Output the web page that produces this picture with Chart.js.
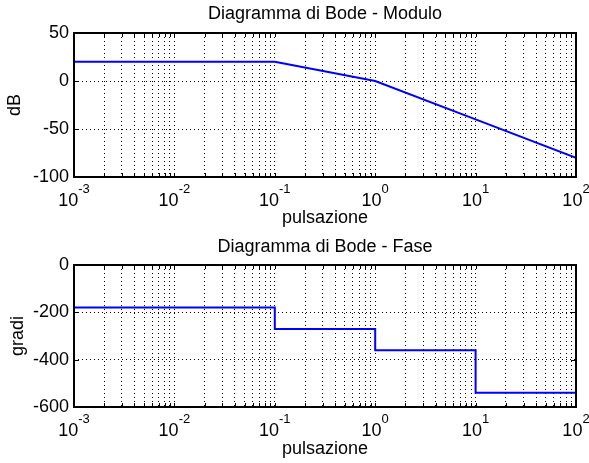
<!DOCTYPE html>
<html>
<head>
<meta charset="utf-8">
<script src="https://cdn.jsdelivr.net/npm/chart.js@4.4.0/dist/chart.umd.min.js"></script>
<style>
  html, body { margin: 0; padding: 0; background: #fff; }
  canvas { display: block; }
</style>
</head>
<body>
<canvas id="moduloChart" width="589" height="232"></canvas>
<canvas id="faseChart" width="589" height="231"></canvas>
<script>
// dati
var pulsazioni = [0.001, 0.1, 1, 10, 100];
var moduloDb = [20, 20, 0, -40, -80];
var faseGradi = [-180, -270, -360, -540, -540];

// etichette degli assi
var decadi = [0.001, 0.01, 0.1, 1, 10, 100];
var esponenti = ['-3', '-2', '-1', '0', '1', '2'];
var moduloTicks = [-100, -50, 0, 50];
var faseTicks = [-600, -400, -200, 0];

var FONT = '"Liberation Sans", Arial, Helvetica, sans-serif';
Chart.defaults.font.family = FONT;
Chart.defaults.font.size = 18;
Chart.defaults.color = '#000';

// tick logaritmici: decadi + minori 2..9
function tickLog() {
  var out = [];
  for (var i = 0; i < decadi.length; i++) {
    out.push({ value: decadi[i] });
    if (i < decadi.length - 1) {
      for (var k = 2; k <= 9; k++) {
        out.push({ value: parseFloat((decadi[i] * k).toPrecision(3)) });
      }
    }
  }
  return out;
}

// cornice, tacche interne e etichette 10^n
var cornice = {
  id: 'cornice',
  afterDraw: function(chart) {
    var ctx = chart.ctx, a = chart.chartArea;
    var sx = chart.scales.x, sy = chart.scales.y;
    ctx.save();
    ctx.strokeStyle = '#000';
    ctx.lineWidth = 1;
    ctx.beginPath();
    sx.ticks.forEach(function(t) {
      var px = Math.round(sx.getPixelForValue(t.value)) + 0.5;
      ctx.moveTo(px, a.bottom); ctx.lineTo(px, a.bottom - 4);
      ctx.moveTo(px, a.top); ctx.lineTo(px, a.top + 4);
    });
    sy.ticks.forEach(function(t) {
      var py = Math.round(sy.getPixelForValue(t.value)) + 0.5;
      ctx.moveTo(a.left, py); ctx.lineTo(a.left + 5, py);
      ctx.moveTo(a.right, py); ctx.lineTo(a.right - 5, py);
    });
    ctx.stroke();
    ctx.lineWidth = 2;
    ctx.strokeRect(a.left, a.top, a.right - a.left, a.bottom - a.top);

    ctx.fillStyle = '#000';
    ctx.textAlign = 'left';
    ctx.textBaseline = 'alphabetic';
    decadi.forEach(function(v, i) {
      var px = sx.getPixelForValue(v);
      ctx.font = '18px ' + FONT;
      var wb = ctx.measureText('10').width;
      ctx.font = '13px ' + FONT;
      var we = ctx.measureText(esponenti[i]).width;
      var x0 = px - (wb + we) / 2;
      ctx.font = '18px ' + FONT;
      ctx.fillText('10', x0, a.bottom + 29);
      ctx.font = '13px ' + FONT;
      ctx.fillText(esponenti[i], x0 + wb, a.bottom + 15.5);
    });
    ctx.restore();
  }
};

function grafico(id, titolo, etichettaY, valori, yTicks, opz) {
  var punti = pulsazioni.map(function(x, i) { return { x: x, y: valori[i] }; });
  return new Chart(document.getElementById(id).getContext('2d'), {
    type: 'line',
    data: {
      datasets: [{
        data: punti,
        borderColor: '#0000ff',
        borderWidth: 2,
        pointRadius: 0,
        tension: 0,
        fill: false,
        stepped: opz.stepped || false
      }]
    },
    options: {
      responsive: false,
      animation: false,
      layout: { padding: { left: 0, right: 13, top: 0, bottom: 0 } },
      plugins: {
        legend: { display: false },
        tooltip: { enabled: false },
        title: {
          display: true,
          text: titolo,
          fullSize: false,
          font: { size: 18, weight: 'normal' },
          padding: { top: opz.titleTop, bottom: 33 - opz.titleTop - 21.6 }
        }
      },
      scales: {
        x: {
          type: 'logarithmic',
          min: decadi[0],
          max: decadi[decadi.length - 1],
          afterBuildTicks: function(s) { s.ticks = tickLog(); },
          afterFit: function(s) { s.height = opz.xHeight; },
          ticks: { display: false },
          grid: { color: '#000', lineWidth: 1, drawTicks: false },
          border: { display: false, dash: [1, 3] },
          title: {
            display: true,
            text: 'pulsazione',
            font: { size: 18 },
            padding: { top: 0, bottom: opz.xTitleBottom }
          }
        },
        y: {
          min: yTicks[0],
          max: yTicks[yTicks.length - 1],
          afterBuildTicks: function(s) { s.ticks = yTicks.map(function(v) { return { value: v }; }); },
          afterFit: function(s) { s.width = 74; },
          ticks: { padding: 5, font: { size: 18 } },
          grid: { color: '#000', lineWidth: 1, drawTicks: false },
          border: { display: false, dash: [1, 3] },
          title: {
            display: true,
            text: etichettaY,
            font: { size: 18 },
            padding: { top: opz.yTitleTop, bottom: 0 }
          }
        }
      }
    },
    plugins: [cornice]
  });
}

grafico('moduloChart', 'Diagramma di Bode - Modulo', 'dB', moduloDb, moduloTicks,
  { titleTop: 3, xHeight: 55, xTitleBottom: 3.5, yTitleTop: 4 });
grafico('faseChart', 'Diagramma di Bode - Fase', 'gradi', faseGradi, faseTicks,
  { titleTop: 4.5, xHeight: 56, xTitleBottom: 3, yTitleTop: 7, stepped: 'before' });
</script>
</body>
</html>
